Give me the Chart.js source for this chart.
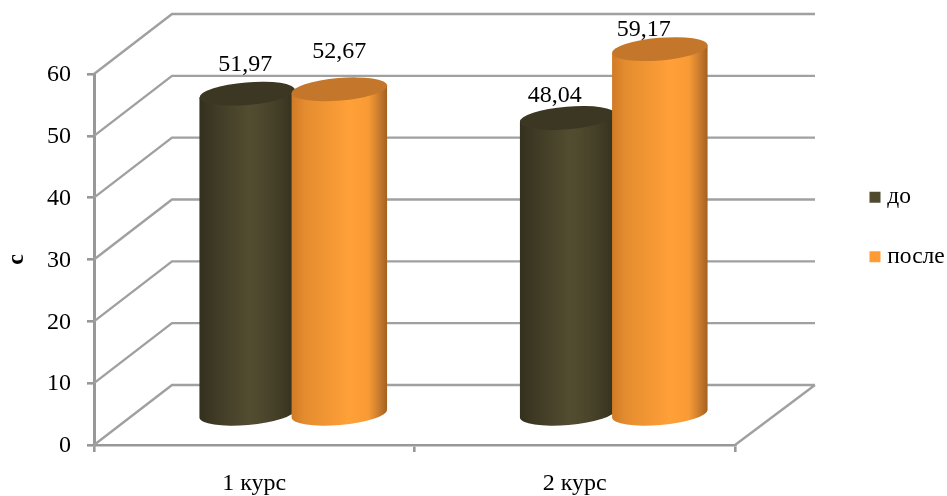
<!DOCTYPE html>
<html lang="ru">
<head>
<meta charset="utf-8">
<title>Время до и после</title>
<style>html,body{margin:0;padding:0;background:#fff}canvas{display:block}</style>
<script src="https://cdn.jsdelivr.net/npm/chart.js@4"></script>
</head>
<body>
<canvas id="chart" width="947" height="496"></canvas>
<script>
const categories = ['1 курс', '2 курс'];
const seriesNames = ['до', 'после'];
const valuesBefore = [51.97, 48.04];
const valuesAfter = [52.67, 59.17];

// Value label nudges (px) relative to the top of each cylinder
const labelNudgeBefore = [[-2, -29], [-13, -22]];
const labelNudgeAfter = [[0, -38], [-16, -19]];

const FONT = '"Liberation Serif", "Times New Roman", serif';
const GRID = '#a0a0a0';
const AXIS = '#989898';
const DEPTH_X = 78;
const DEPTH_Y = 60;
const TILT = -4.8 * Math.PI / 180;
const CAP_RY = 11.3;

const palettes = [
  {
    solid: '#4f4a2e', cap: '#3c3722',
    stops: [[0, '#35301e'], [0.18, '#403b25'], [0.52, '#524c30'], [0.62, '#4f4a2e'], [0.88, '#3f3a24'], [1, '#33301d']]
  },
  {
    solid: '#fe9b35', cap: '#c4772a',
    stops: [[0, '#cf7a26'], [0.14, '#e48c2f'], [0.6, '#ffa038'], [0.8, '#f99b35'], [0.9, '#cf8030'], [1, '#a4601f']]
  }
];

// Back wall, side wall and floor of the 3D box, tied to the value scale
function drawBox(chart) {
  const { ctx, chartArea: a, scales: { y } } = chart;
  ctx.save();
  ctx.strokeStyle = GRID;
  ctx.lineWidth = 2.4;
  ctx.beginPath();
  y.ticks.forEach(t => {
    const py = y.getPixelForValue(t.value);
    ctx.moveTo(a.left, py);
    ctx.lineTo(a.left + DEPTH_X, py - DEPTH_Y);
    ctx.lineTo(a.right + DEPTH_X + 2, py - DEPTH_Y);
  });
  ctx.moveTo(a.right, a.bottom);
  ctx.lineTo(a.right + DEPTH_X + 2, a.bottom - DEPTH_Y);
  ctx.stroke();
  ctx.restore();
}

function drawCylinder(ctx, bar, palette) {
  const { x, y, base, width } = bar.getProps(['x', 'y', 'base', 'width'], true);
  const cx = x + DEPTH_X / 2;
  const topY = y - DEPTH_Y / 2;
  const botY = base - DEPTH_Y / 2;
  const rx = width / 2;
  const dx = rx * Math.cos(TILT);
  const dy = rx * Math.sin(TILT);

  const grad = ctx.createLinearGradient(cx - rx, 0, cx + rx, 0);
  palette.stops.forEach(([o, c]) => grad.addColorStop(o, c));

  ctx.save();
  ctx.fillStyle = grad;
  ctx.beginPath();
  ctx.moveTo(cx + dx, topY + dy);
  ctx.lineTo(cx + dx, botY + dy);
  ctx.ellipse(cx, botY, rx, CAP_RY, TILT, 0, Math.PI);
  ctx.lineTo(cx - dx, topY - dy);
  ctx.closePath();
  ctx.fill();

  ctx.fillStyle = palette.cap;
  ctx.beginPath();
  ctx.ellipse(cx, topY, rx, CAP_RY, TILT, 0, Math.PI * 2);
  ctx.fill();
  ctx.restore();
}

const cylinderPlugin = {
  id: 'cylinders',
  beforeLayout(chart) {
    // Reserve a fixed column on the right for the legend
    const legend = chart.legend;
    const fit = legend.fit;
    legend.fit = function () { fit.call(this); this.width = 212; };
  },
  afterLayout(chart) {
    const legend = chart.legend;
    const pad = legend.options.labels.padding;
    legend.left = 874.5 - pad;
    legend.right = 947;
    legend.top = 163 - pad;
    legend.bottom = legend.top + 200;
  },
  beforeDatasetsDraw(chart) {
    drawBox(chart);
    chart.data.datasets.forEach((ds, i) => {
      chart.getDatasetMeta(i).data.forEach(bar => drawCylinder(chart.ctx, bar, palettes[i]));
    });
  },
  beforeDatasetDraw() {
    return false;
  },
  afterDatasetsDraw(chart) {
    const { ctx } = chart;
    const nudges = [labelNudgeBefore, labelNudgeAfter];
    ctx.save();
    ctx.font = '24px ' + FONT;
    ctx.fillStyle = '#000';
    ctx.textAlign = 'center';
    ctx.textBaseline = 'middle';
    chart.data.datasets.forEach((ds, i) => {
      chart.getDatasetMeta(i).data.forEach((bar, j) => {
        const { x, y } = bar.getProps(['x', 'y'], true);
        const [nx, ny] = nudges[i][j];
        const text = ds.data[j].toFixed(2).replace('.', ',');
        ctx.fillText(text, x + DEPTH_X / 2 + nx, y - DEPTH_Y / 2 + ny);
      });
    });
    ctx.restore();
  }
};

new Chart(document.getElementById('chart'), {
  type: 'bar',
  data: {
    labels: categories,
    datasets: [
      { label: seriesNames[0], data: valuesBefore, backgroundColor: palettes[0].solid, categoryPercentage: 0.575, barPercentage: 1.04 },
      { label: seriesNames[1], data: valuesAfter, backgroundColor: palettes[1].solid, categoryPercentage: 0.575, barPercentage: 1.04 }
    ]
  },
  plugins: [cylinderPlugin],
  options: {
    responsive: false,
    animation: false,
    layout: { padding: { top: 74, left: 0, right: 0, bottom: 0 } },
    plugins: {
      tooltip: { enabled: false },
      legend: {
        position: 'right',
        labels: {
          color: '#000',
          font: { family: FONT, size: 23.5 },
          usePointStyle: true,
          pointStyle: 'rect',
          boxWidth: 1,
          boxHeight: 11,
          padding: 36
        }
      }
    },
    scales: {
      x: {
        afterFit(scale) { scale.height = 51; },
        border: { color: AXIS, width: 2.6 },
        grid: { offset: true, drawOnChartArea: false, color: AXIS, lineWidth: 2.6, tickLength: 7 },
        ticks: { color: '#000', font: { family: FONT, size: 24 }, padding: 17, maxRotation: 0 }
      },
      y: {
        min: 0,
        max: 60,
        afterFit(scale) { scale.width = 94; },
        border: { color: AXIS, width: 3 },
        grid: { drawOnChartArea: false, color: AXIS, lineWidth: 2.6, tickLength: 7 },
        ticks: { stepSize: 10, color: '#000', font: { family: FONT, size: 24 }, padding: 16, labelOffset: 1 },
        title: {
          display: true,
          text: 'с',
          color: '#000',
          font: { family: FONT, size: 24, weight: 'bold' },
          padding: { top: 2, bottom: 0 }
        }
      }
    }
  }
});
</script>
</body>
</html>
